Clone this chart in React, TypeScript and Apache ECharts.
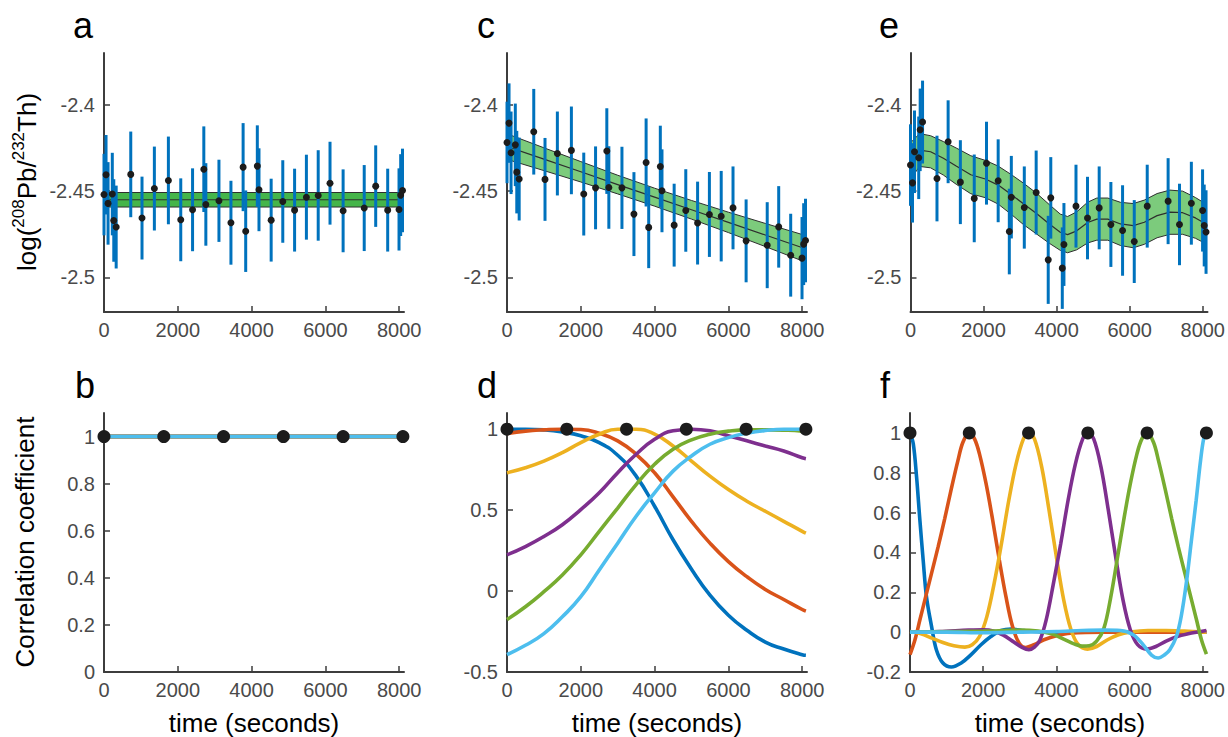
import React, { useEffect, useRef } from 'react';
import * as echarts from 'echarts';

// ---------- data ----------
const times = [0, 55, 110, 225, 265, 330, 725, 1030, 1365, 1745, 2080, 2400, 2705, 2760, 3115, 3440, 3770, 3840, 4155, 4200, 4530, 4845, 5165, 5485, 5805, 6125, 6480, 7052, 7363, 7688, 7995, 8040, 8090];
const errors = [0.0236, 0.023, 0.0239, 0.0239, 0.0239, 0.024, 0.0248, 0.024, 0.0243, 0.0254, 0.024, 0.024, 0.0248, 0.0239, 0.0238, 0.0243, 0.0255, 0.0236, 0.0236, 0.024, 0.024, 0.0239, 0.024, 0.0246, 0.0262, 0.024, 0.024, 0.0249, 0.0236, 0.024, 0.0238, 0.0237, 0.0242];
const aValues = [-2.452, -2.4405, -2.4571, -2.4517, -2.467, -2.4708, -2.4403, -2.4656, -2.4485, -2.4438, -2.4666, -2.4608, -2.4373, -2.4577, -2.4556, -2.4683, -2.4361, -2.4732, -2.4355, -2.4492, -2.4668, -2.456, -2.461, -2.4535, -2.4525, -2.4454, -2.4614, -2.4598, -2.4471, -2.461, -2.4606, -2.4523, -2.4496];
const cValues = [-2.4218, -2.4106, -2.4278, -2.4232, -2.439, -2.443, -2.4156, -2.4432, -2.4282, -2.4264, -2.4517, -2.4481, -2.4268, -2.4479, -2.4481, -2.4633, -2.4334, -2.471, -2.4357, -2.4498, -2.4697, -2.4612, -2.4685, -2.4635, -2.4645, -2.4597, -2.4788, -2.4813, -2.4707, -2.4871, -2.4888, -2.4807, -2.4786];
const eValues = [-2.4349, -2.4452, -2.4272, -2.4307, -2.4145, -2.41, -2.4427, -2.4214, -2.4448, -2.4542, -2.4338, -2.444, -2.4734, -2.4535, -2.4595, -2.4508, -2.4898, -2.4539, -2.4946, -2.4809, -2.4587, -2.4656, -2.4597, -2.4693, -2.4728, -2.4792, -2.4587, -2.4558, -2.4693, -2.457, -2.4612, -2.4699, -2.4737];

const aBandX = [0, 8090];
const aBandUpper = [-2.4508, -2.4508];
const aBandMid = [-2.455, -2.455];
const aBandLower = [-2.4592, -2.4592];

const cBandX = [0, 1000, 2000, 3000, 4000, 5000, 6000, 7000, 8090];
const cBandUpper = [-2.4168, -2.4249, -2.4329, -2.4408, -2.4483, -2.4554, -2.4622, -2.4687, -2.4757];
const cBandMid = [-2.4242, -2.4315, -2.4388, -2.4462, -2.4535, -2.4608, -2.4681, -2.4754, -2.4834];
const cBandLower = [-2.4316, -2.4381, -2.4447, -2.4516, -2.4587, -2.4662, -2.474, -2.4821, -2.4911];

const eBandX = [0, 250, 550, 900, 1250, 1650, 2050, 2400, 2750, 3100, 3450, 3800, 4100, 4300, 4550, 4850, 5100, 5400, 5750, 6100, 6400, 6750, 7100, 7450, 7800, 8090];
const eBandMid = [-2.4325, -2.4262, -2.4272, -2.431, -2.4355, -2.4405, -2.443, -2.4465, -2.4518, -2.4575, -2.463, -2.469, -2.4738, -2.4752, -2.473, -2.4682, -2.4662, -2.4662, -2.469, -2.47, -2.468, -2.4642, -2.4622, -2.4625, -2.4655, -2.469];
const eBandUpper = [-2.422, -2.4167, -2.4179, -2.4213, -2.425, -2.4295, -2.4322, -2.4355, -2.4403, -2.4455, -2.4512, -2.4578, -2.4633, -2.4647, -2.462, -2.4564, -2.454, -2.454, -2.4565, -2.4572, -2.4552, -2.4514, -2.4494, -2.45, -2.4537, -2.4575];
const eBandLower = [-2.443, -2.4357, -2.4365, -2.4407, -2.446, -2.4515, -2.4538, -2.4575, -2.4633, -2.4695, -2.4748, -2.4802, -2.4843, -2.4857, -2.484, -2.48, -2.4784, -2.4784, -2.4815, -2.4828, -2.4808, -2.477, -2.475, -2.475, -2.4773, -2.4805];

const nodeTimes = [0, 1620, 3240, 4860, 6480, 8100];
const nodeCorr = [1, 1, 1, 1, 1, 1];

const bX = [0, 8100];
const bCorr = [1, 1];

const dX = [0, 500, 1000, 1500, 2000, 2500, 3000, 3500, 4000, 4500, 5000, 5500, 6000, 6500, 7000, 7500, 8000, 8100];
const dBlue = [1.0, 1.0, 0.996, 0.983, 0.959, 0.917, 0.839, 0.71, 0.524, 0.317, 0.135, -0.025, -0.149, -0.242, -0.315, -0.358, -0.393, -0.397];
const dRed = [0.973, 0.988, 0.996, 1.0, 0.998, 0.975, 0.928, 0.845, 0.731, 0.582, 0.431, 0.296, 0.182, 0.089, 0.01, -0.052, -0.114, -0.124];
const dYellow = [0.731, 0.762, 0.803, 0.855, 0.917, 0.969, 1.0, 1.0, 0.969, 0.896, 0.803, 0.71, 0.627, 0.555, 0.493, 0.431, 0.369, 0.358];
const dPurple = [0.224, 0.275, 0.337, 0.41, 0.503, 0.607, 0.731, 0.845, 0.938, 0.99, 1.0, 0.99, 0.959, 0.928, 0.896, 0.865, 0.824, 0.818];
const dGreen = [-0.176, -0.097, -0.004, 0.099, 0.224, 0.369, 0.513, 0.658, 0.783, 0.876, 0.934, 0.969, 0.988, 0.996, 0.996, 0.994, 0.988, 0.983];
const dCyan = [-0.393, -0.335, -0.263, -0.159, -0.035, 0.13, 0.296, 0.462, 0.607, 0.741, 0.834, 0.907, 0.948, 0.975, 0.992, 1.0, 1.0, 1.0];

const fBlueX = [0, 90, 180, 270, 360, 450, 590, 720, 900, 1130, 1400, 1670, 1940, 2210, 2490, 2760, 3120, 3500, 4500, 5500, 6500, 7500, 8100];
const fBlueY = [1.0, 0.945, 0.778, 0.562, 0.362, 0.178, 0.028, -0.088, -0.155, -0.175, -0.155, -0.113, -0.063, -0.022, 0.008, 0.015, 0.008, 0.002, 0, 0, 0, 0, 0];
const fRedX = [0, 136, 271, 407, 588, 768, 949, 1130, 1311, 1446, 1620, 1763, 1898, 2079, 2260, 2441, 2622, 2802, 2983, 3164, 3390, 3661, 4023, 4384, 5300, 6500, 8100];
const fRedY = [-0.113, -0.038, 0.062, 0.162, 0.295, 0.428, 0.57, 0.72, 0.862, 0.953, 1.0, 0.97, 0.895, 0.745, 0.562, 0.362, 0.178, 0.028, -0.055, -0.077, -0.063, -0.038, -0.017, -0.005, 0, 0, 0];
const fYellowX = [0, 300, 600, 900, 1200, 1500, 1700, 1900, 2100, 2300, 2500, 2700, 2900, 3100, 3240, 3400, 3600, 3800, 4000, 4200, 4400, 4600, 4850, 5100, 5400, 5700, 6000, 6500, 7000, 7500, 8100];
const fYellowY = [0.003, -0.008, -0.03, -0.052, -0.068, -0.075, -0.063, -0.022, 0.078, 0.245, 0.445, 0.662, 0.845, 0.97, 1.0, 0.97, 0.828, 0.612, 0.378, 0.162, 0.012, -0.063, -0.085, -0.072, -0.038, -0.013, 0, 0.008, 0.008, 0.005, 0];
const fPurpleX = [0, 800, 1600, 2000, 2300, 2550, 2800, 3050, 3250, 3400, 3550, 3720, 3920, 4120, 4320, 4520, 4720, 4860, 5020, 5220, 5420, 5620, 5820, 6020, 6220, 6470, 6720, 7000, 7300, 7600, 7900, 8100];
const fPurpleY = [0, 0.003, 0.01, 0.012, 0.005, -0.015, -0.045, -0.075, -0.088, -0.075, -0.04, 0.06, 0.245, 0.445, 0.662, 0.845, 0.97, 1.0, 0.97, 0.828, 0.612, 0.378, 0.162, 0.012, -0.063, -0.085, -0.072, -0.045, -0.022, -0.008, 0.002, 0.008];
const fGreenX = [0, 2000, 3000, 3500, 3900, 4200, 4500, 4700, 4900, 5100, 5300, 5480, 5659, 5840, 6021, 6202, 6337, 6480, 6654, 6789, 6970, 7151, 7332, 7512, 7693, 7829, 7964, 8100];
const fGreenY = [0, 0.005, 0.01, 0.005, -0.01, -0.035, -0.06, -0.07, -0.068, -0.045, 0.02, 0.17, 0.362, 0.562, 0.745, 0.895, 0.97, 1.0, 0.953, 0.862, 0.72, 0.57, 0.428, 0.295, 0.162, 0.062, -0.038, -0.11];
const fCyanX = [0, 1000, 2000, 3000, 4000, 4700, 5300, 5750, 6100, 6370, 6600, 6780, 6960, 7100, 7280, 7410, 7550, 7680, 7820, 7940, 8030, 8100];
const fCyanY = [0, 0, -0.003, 0, 0.003, 0.008, 0.01, 0.008, -0.013, -0.063, -0.115, -0.13, -0.113, -0.088, -0.022, 0.078, 0.245, 0.445, 0.662, 0.862, 0.975, 1.0];

const xTicks = [0, 2000, 4000, 6000, 8000];
const topYTicks = [-2.5, -2.45, -2.4];
const bYTicks = [0, 0.2, 0.4, 0.6, 0.8, 1];
const dYTicks = [-0.5, 0, 0.5, 1];
const fYTicks = [-0.2, 0, 0.2, 0.4, 0.6, 0.8, 1];

// ---------- styling ----------
const COLORS = ['#0072BD', '#D95319', '#EDB120', '#7E2F8E', '#77AC30', '#4DBEEE'];
const FONT = '"Liberation Sans", Arial, Helvetica, sans-serif';
const AX = '#3d3d3d';
const LBL = '#4a4a4a';
const ERR = '#0072BD';
const DOT = '#1c1c1c';

const zip = (xs: number[], ys: number[]) => xs.map((x, i) => [x, ys[i]]);

function xAxisFor(gi: number) {
  return {
    type: 'value', gridIndex: gi, min: 0, max: 8130,
    axisLine: { show: true, onZero: false, lineStyle: { color: AX, width: 2 } },
    axisTick: { show: true, inside: true, length: 6, customValues: xTicks, lineStyle: { color: AX, width: 1.5 } },
    axisLabel: { customValues: xTicks, color: LBL, fontSize: 20, fontFamily: FONT, margin: 8, formatter: (v: number) => String(v) },
    splitLine: { show: false },
  };
}
function yAxisFor(gi: number, min: number, max: number, ticks: number[]) {
  return {
    type: 'value', gridIndex: gi, min, max,
    axisLine: { show: true, onZero: false, lineStyle: { color: AX, width: 2 } },
    axisTick: { show: true, inside: true, length: 6, customValues: ticks, lineStyle: { color: AX, width: 1.5 } },
    axisLabel: { customValues: ticks, color: LBL, fontSize: 20, fontFamily: FONT, margin: 9, formatter: (v: number) => String(v) },
    splitLine: { show: false },
  };
}

function bandSeries(gi: number, xs: number[], up: number[], lo: number[], fill: string) {
  return {
    type: 'custom', xAxisIndex: gi, yAxisIndex: gi, silent: true, z: 1,
    data: [[xs[0], up[0]]],
    encode: { x: 0, y: 1 },
    renderItem: (_p: any, api: any) => {
      const pts: number[][] = [];
      for (let i = 0; i < xs.length; i++) pts.push(api.coord([xs[i], up[i]]));
      for (let i = xs.length - 1; i >= 0; i--) pts.push(api.coord([xs[i], lo[i]]));
      return { type: 'polygon', shape: { points: pts }, style: { fill } };
    },
  };
}
function edgeLine(gi: number, xs: number[], ys: number[], width: number) {
  return {
    type: 'line', xAxisIndex: gi, yAxisIndex: gi, silent: true, z: 2,
    data: zip(xs, ys), showSymbol: false, symbol: 'none',
    lineStyle: { color: '#2e2e2e', width },
  };
}
function errSeries(gi: number, ys: number[]) {
  return {
    type: 'custom', xAxisIndex: gi, yAxisIndex: gi, silent: true, z: 3,
    data: times.map((t, i) => [t, ys[i], errors[i]]),
    encode: { x: 0, y: 1 },
    renderItem: (_p: any, api: any) => {
      const x = api.value(0), y = api.value(1), e = api.value(2);
      const a = api.coord([x, y + e]);
      const b = api.coord([x, y - e]);
      return { type: 'line', shape: { x1: a[0], y1: a[1], x2: b[0], y2: b[1] }, style: { stroke: ERR, lineWidth: 3 } };
    },
  };
}
function dotSeries(gi: number, xs: number[], ys: number[], size: number) {
  return {
    type: 'scatter', xAxisIndex: gi, yAxisIndex: gi, silent: true, z: 5,
    data: zip(xs, ys), symbolSize: size,
    itemStyle: { color: DOT, opacity: 1 },
  };
}
function curve(gi: number, xs: number[], ys: number[], color: string, smooth: number | boolean) {
  return {
    type: 'line', xAxisIndex: gi, yAxisIndex: gi, silent: true, z: 3,
    data: zip(xs, ys), showSymbol: false, symbol: 'none', smooth,
    lineStyle: { color, width: 3.6 },
  };
}

function txt(x: number, y: number, text: string, size: number, extra: any = {}) {
  return {
    type: 'text', x, y, silent: true, ...extra,
    style: { text, fontSize: size, fontFamily: FONT, fill: '#000', align: extra.align || 'left', verticalAlign: 'middle' },
  };
}

export default function App() {
  const ref = useRef<HTMLDivElement>(null);
  useEffect(() => {
    if (!ref.current) return;
    const chart = echarts.init(ref.current, undefined, { renderer: 'svg' });
    const series: any[] = [
      // a (grid 0)
      bandSeries(0, aBandX, aBandUpper, aBandLower, '#45b54a'),
      edgeLine(0, aBandX, aBandUpper, 1), edgeLine(0, aBandX, aBandLower, 1), edgeLine(0, aBandX, aBandMid, 1),
      errSeries(0, aValues), dotSeries(0, times, aValues, 7),
      // c (grid 1)
      bandSeries(1, cBandX, cBandUpper, cBandLower, '#7ccb7c'),
      edgeLine(1, cBandX, cBandUpper, 1), edgeLine(1, cBandX, cBandLower, 1), edgeLine(1, cBandX, cBandMid, 1.2),
      errSeries(1, cValues), dotSeries(1, times, cValues, 7),
      // e (grid 2)
      bandSeries(2, eBandX, eBandUpper, eBandLower, '#7ccb7c'),
      edgeLine(2, eBandX, eBandUpper, 1), edgeLine(2, eBandX, eBandLower, 1), edgeLine(2, eBandX, eBandMid, 1.2),
      errSeries(2, eValues), dotSeries(2, times, eValues, 7),
    ];
    // b (grid 3)
    COLORS.forEach((c) => series.push(curve(3, bX, bCorr, c, false)));
    series.push(dotSeries(3, nodeTimes, nodeCorr, 13));
    // d (grid 4)
    [dBlue, dRed, dYellow, dPurple, dGreen, dCyan].forEach((ys, i) => series.push(curve(4, dX, ys, COLORS[i], true)));
    series.push(dotSeries(4, nodeTimes, nodeCorr, 13));
    // f (grid 5)
    const fx = [fBlueX, fRedX, fYellowX, fPurpleX, fGreenX, fCyanX];
    const fy = [fBlueY, fRedY, fYellowY, fPurpleY, fGreenY, fCyanY];
    fx.forEach((xs, i) => series.push(curve(5, xs, fy[i], COLORS[i], 0.35)));
    series.push(dotSeries(5, nodeTimes, nodeCorr, 13));

    const richTitle = {
      type: 'text', x: 24.5, y: 182, rotation: Math.PI / 2, silent: true,
      style: {
        text: '{n|log(}{s|208}{n|Pb/}{s|232}{n|Th)}',
        align: 'center', verticalAlign: 'middle', fill: '#000',
        rich: {
          n: { fontSize: 26, fontFamily: FONT, fill: '#000', lineHeight: 30, verticalAlign: 'bottom' },
          s: { fontSize: 17, fontFamily: FONT, fill: '#000', lineHeight: 18, verticalAlign: 'top' },
        },
      },
    };

    chart.setOption({
      animation: false,
      backgroundColor: '#ffffff',
      grid: [
        { left: 104, top: 53, width: 300, height: 259 },
        { left: 507, top: 53, width: 300, height: 259 },
        { left: 910.5, top: 53, width: 300, height: 259 },
        { left: 104, top: 413, width: 300, height: 259 },
        { left: 507, top: 413, width: 300, height: 259 },
        { left: 910, top: 413, width: 300, height: 259 },
      ],
      xAxis: [0, 1, 2, 3, 4, 5].map((g) => xAxisFor(g)),
      yAxis: [
        yAxisFor(0, -2.52, -2.37, topYTicks),
        yAxisFor(1, -2.52, -2.37, topYTicks),
        yAxisFor(2, -2.52, -2.37, topYTicks),
        yAxisFor(3, 0, 1.1, bYTicks),
        yAxisFor(4, -0.5, 1.1, dYTicks),
        yAxisFor(5, -0.2, 1.1, fYTicks),
      ],
      series,
      graphic: [
        txt(73, 25.5, 'a', 36), txt(477, 25.5, 'c', 36), txt(879, 25.5, 'e', 36),
        txt(75, 385.5, 'b', 36), txt(477, 385.5, 'd', 36), txt(880, 385.5, 'f', 36),
        richTitle,
        txt(24.5, 542, 'Correlation coefficient', 26, { rotation: Math.PI / 2, align: 'center' }),
        txt(254, 722.7, 'time (seconds)', 26, { align: 'center' }),
        txt(657, 722.7, 'time (seconds)', 26, { align: 'center' }),
        txt(1060, 722.7, 'time (seconds)', 26, { align: 'center' }),
      ],
    } as any);
    return () => chart.dispose();
  }, []);
  return (
    <div
      ref={ref}
      style={{ position: 'fixed', left: 0, top: 0, width: 1228, height: 737, background: '#fff' }}
    />
  );
}
